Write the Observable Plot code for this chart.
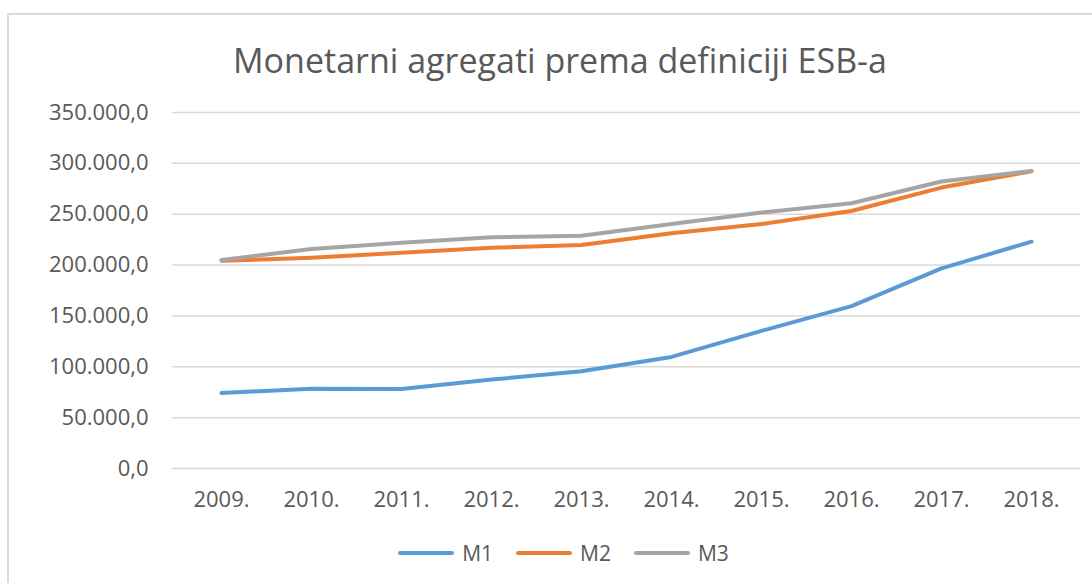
<!DOCTYPE html>
<html>
<head>
<meta charset="utf-8">
<script src="https://cdn.jsdelivr.net/npm/d3@7"></script>
<script src="https://cdn.jsdelivr.net/npm/@observablehq/plot@0.6"></script>
<style>
  html, body { margin: 0; padding: 0; background: #fff; }
  #wrap { position: relative; width: 1092px; height: 583px; overflow: hidden; font-family: "Open Sans", sans-serif; color: #595959; }
  #frame { position: absolute; left: 7px; top: 13px; width: 1200px; height: 700px; border: 2px solid #d9d9d9; box-sizing: border-box; }
  #title { position: absolute; left: 0; top: 38px; width: 1120px; text-align: center; font-size: 34px; line-height: 44px; color: #595959; }
  #chart { position: absolute; left: 0; top: 90px; }
  #legend { position: absolute; left: 0; top: 538px; width: 1126px; height: 30px; display: flex; justify-content: center; align-items: center; font-size: 21px; color: #595959; }
  .item { display: flex; align-items: center; margin: 0 11px; }
  .item svg { margin-right: 7px; }
</style>
</head>
<body>
<div id="wrap">
  <div id="frame"></div>
  <div id="title">Monetarni agregati prema definiciji ESB-a</div>
  <div id="chart"></div>
  <div id="legend"></div>
</div>
<script>
const years = ["2009.", "2010.", "2011.", "2012.", "2013.", "2014.", "2015.", "2016.", "2017.", "2018."];
const seriesNames = ["M1", "M2", "M3"];
const seriesColors = ["#5B9BD5", "#ED7D31", "#A5A5A5"];
const m1 = [74200, 78500, 78100, 87400, 95600, 109700, 135300, 159600, 196700, 223000];
const m2 = [204200, 207200, 212000, 217000, 219700, 231200, 240400, 253200, 276200, 292300];
const m3 = [204900, 215800, 222000, 227300, 228900, 240400, 251600, 260800, 282100, 292600];
const yTicks = [0, 50000, 100000, 150000, 200000, 250000, 300000, 350000];

const seriesValues = [m1, m2, m3];
const data = [];
seriesNames.forEach((s, i) => {
  years.forEach((y, j) => data.push({ series: s, year: y, value: seriesValues[i][j] }));
});

const loc = d3.formatLocale({ decimal: ",", thousands: ".", grouping: [3], currency: ["", ""] });
const fmt = loc.format(",.1f");

const chart = Plot.plot({
  width: 1092,
  height: 440,
  marginLeft: 172,
  marginRight: 12,
  marginTop: 22,
  marginBottom: 62,
  style: { fontFamily: "Open Sans, sans-serif", fontSize: "22px", color: "#595959", background: "transparent" },
  x: { type: "point", domain: years, padding: 0.5, label: null },
  y: { domain: [0, 350000], label: null },
  color: { domain: seriesNames, range: seriesColors },
  marks: [
    Plot.gridY(yTicks, { stroke: "#d9d9d9", strokeOpacity: 1, strokeWidth: 1.5 }),
    Plot.axisY(yTicks, { tickSize: 0, tickPadding: 24, tickFormat: fmt, fill: "#595959", fontSize: 22, label: null }),
    Plot.axisX({ tickSize: 0, tickPadding: 23, fill: "#595959", fontSize: 22, label: null }),
    Plot.line(data, { x: "year", y: "value", stroke: "series", z: "series", strokeWidth: 4, strokeLinejoin: "round", strokeLinecap: "round" })
  ]
});
document.getElementById("chart").appendChild(chart);

const legend = document.getElementById("legend");
seriesNames.forEach((s, i) => {
  const item = document.createElement("div");
  item.className = "item";
  item.innerHTML = `<svg width="58" height="8"><line x1="3" y1="4" x2="55" y2="4" stroke="${seriesColors[i]}" stroke-width="4" stroke-linecap="round"/></svg><span>${s}</span>`;
  legend.appendChild(item);
});
</script>
</body>
</html>
